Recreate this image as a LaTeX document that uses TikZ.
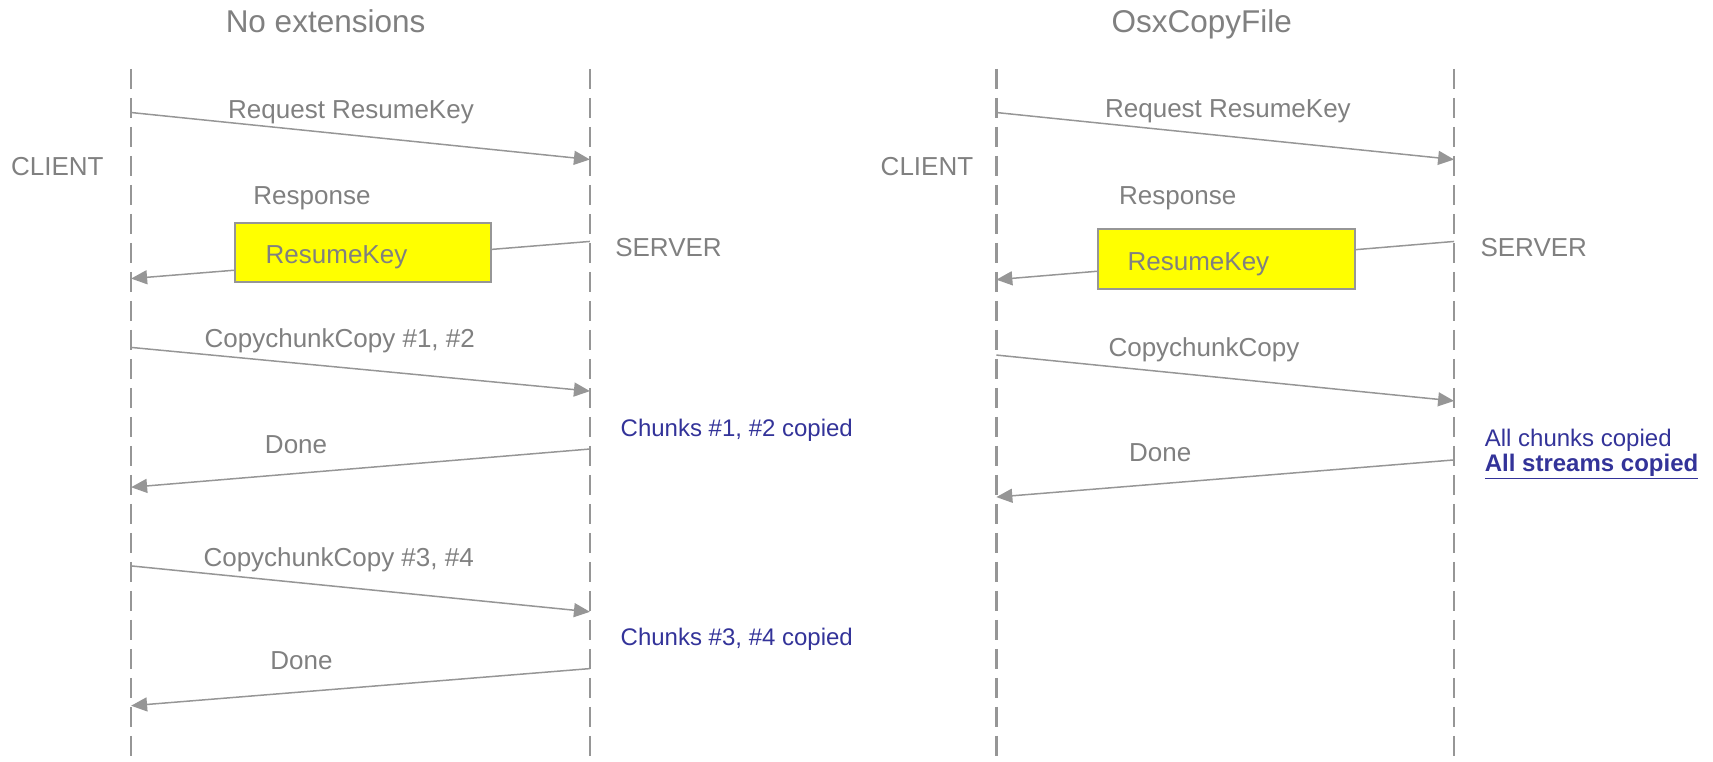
\documentclass[tikz,border=0pt]{standalone}
\usepackage{fontspec}
\setmainfont{Liberation Sans}
\usetikzlibrary{arrows.meta}
\definecolor{txtgray}{RGB}{128,128,128}
\definecolor{linegray}{RGB}{150,150,150}
\definecolor{navyblue}{RGB}{51,51,153}
\definecolor{boxyellow}{RGB}{255,255,0}
\begin{document}
\begin{tikzpicture}[x=1.0925pt,y=-1.0925pt,
  lifeline/.style={draw=linegray, line width=2.5pt, dash pattern=on 20pt off 9pt},
  msg/.style={draw=linegray, line width=1.5pt, -{Triangle[length=16pt,width=14pt]}},
  lbl/.style={text=txtgray, font=\fontsize{26}{30}\selectfont, inner sep=0pt, anchor=mid, yshift=-6.5pt},
  side/.style={lbl, anchor=mid west},
  ttl/.style={text=txtgray, font=\fontsize{31.5}{36}\selectfont, inner sep=0pt, anchor=mid, yshift=-8pt},
  note/.style={text=navyblue, font=\fontsize{24}{28}\selectfont, inner sep=0pt, anchor=mid west, yshift=-6pt},
  keybox/.style={draw=linegray, fill=boxyellow, line width=2pt, minimum width=256.7pt, minimum height=59.5pt, inner sep=0pt}
]
\useasboundingbox (0,0) rectangle (1568,696.6);

% ---------- left diagram ----------
\coordinate (lct) at (120,63);
\coordinate (lcb) at (120,697);
\coordinate (lst) at (540,63);
\coordinate (lsb) at (540,697);
\draw[lifeline] (lct) -- (lcb);
\draw[lifeline] (lst) -- (lsb);

\node[ttl] (t1) at (298,20) {No extensions};
\node[side] (cl1) at (10,152) {CLIENT};
\node[side] (sv1) at (563,226) {SERVER};

\coordinate (l1a) at (120,103);  \coordinate (l1b) at (540,146);
\coordinate (l2a) at (540,221);  \coordinate (l2b) at (120,255);
\coordinate (l3a) at (120,318);  \coordinate (l3b) at (540,358);
\coordinate (l4a) at (540,411);  \coordinate (l4b) at (120,446);
\coordinate (l5a) at (120,518);  \coordinate (l5b) at (540,560);
\coordinate (l6a) at (540,612);  \coordinate (l6b) at (120,646);

\draw[msg] (l1a) -- (l1b);
\draw[msg] (l2a) -- (l2b);
\draw[msg] (l3a) -- (l3b);
\draw[msg] (l4a) -- (l4b);
\draw[msg] (l5a) -- (l5b);
\draw[msg] (l6a) -- (l6b);

\node[keybox] (kb1) at (332.3,231) {};
\node[side] (kt1) at (243,232.5) {ResumeKey};

\node[lbl] (m1) at (321.3,100.5) {Request ResumeKey};
\node[lbl] (m2) at (285.6,179) {Response};
\node[lbl] (m3) at (311,310) {CopychunkCopy \#1, \#2};
\node[lbl] (m4) at (271,407) {Done};
\node[lbl] (m5) at (310,510) {CopychunkCopy \#3, \#4};
\node[lbl] (m6) at (276,604) {Done};

\node[note] (n1) at (568,392) {Chunks \#1, \#2 copied};
\node[note] (n2) at (568,583) {Chunks \#3, \#4 copied};

% ---------- right diagram ----------
\coordinate (rct) at (912,63);
\coordinate (rcb) at (912,697);
\coordinate (rst) at (1331,63);
\coordinate (rsb) at (1331,697);
\draw[lifeline] (rct) -- (rcb);
\draw[lifeline] (rst) -- (rsb);

\node[ttl] (t2) at (1100,20) {OsxCopyFile};
\node[side] (cl2) at (806,152) {CLIENT};
\node[side] (sv2) at (1355,226) {SERVER};

\coordinate (r1a) at (912,103);  \coordinate (r1b) at (1331,146);
\coordinate (r2a) at (1331,221); \coordinate (r2b) at (912,256);
\coordinate (r3a) at (912,325);  \coordinate (r3b) at (1331,367);
\coordinate (r4a) at (1331,421); \coordinate (r4b) at (912,455);

\draw[msg] (r1a) -- (r1b);
\draw[msg] (r2a) -- (r2b);
\draw[msg] (r3a) -- (r3b);
\draw[msg] (r4a) -- (r4b);

\node[keybox] (kb2) at (1122.6,237.3) {};
\node[side] (kt2) at (1032,239) {ResumeKey};

\node[lbl] (q1) at (1124,99.5) {Request ResumeKey};
\node[lbl] (q2) at (1078,179) {Response};
\node[lbl] (q3) at (1102,318) {CopychunkCopy};
\node[lbl] (q4) at (1062,414) {Done};

\node[note] (n3) at (1359,401) {All chunks copied};
\node[note] (n4) at (1359,424) {\underline{\textbf{All streams copied}}};
\end{tikzpicture}
\end{document}
